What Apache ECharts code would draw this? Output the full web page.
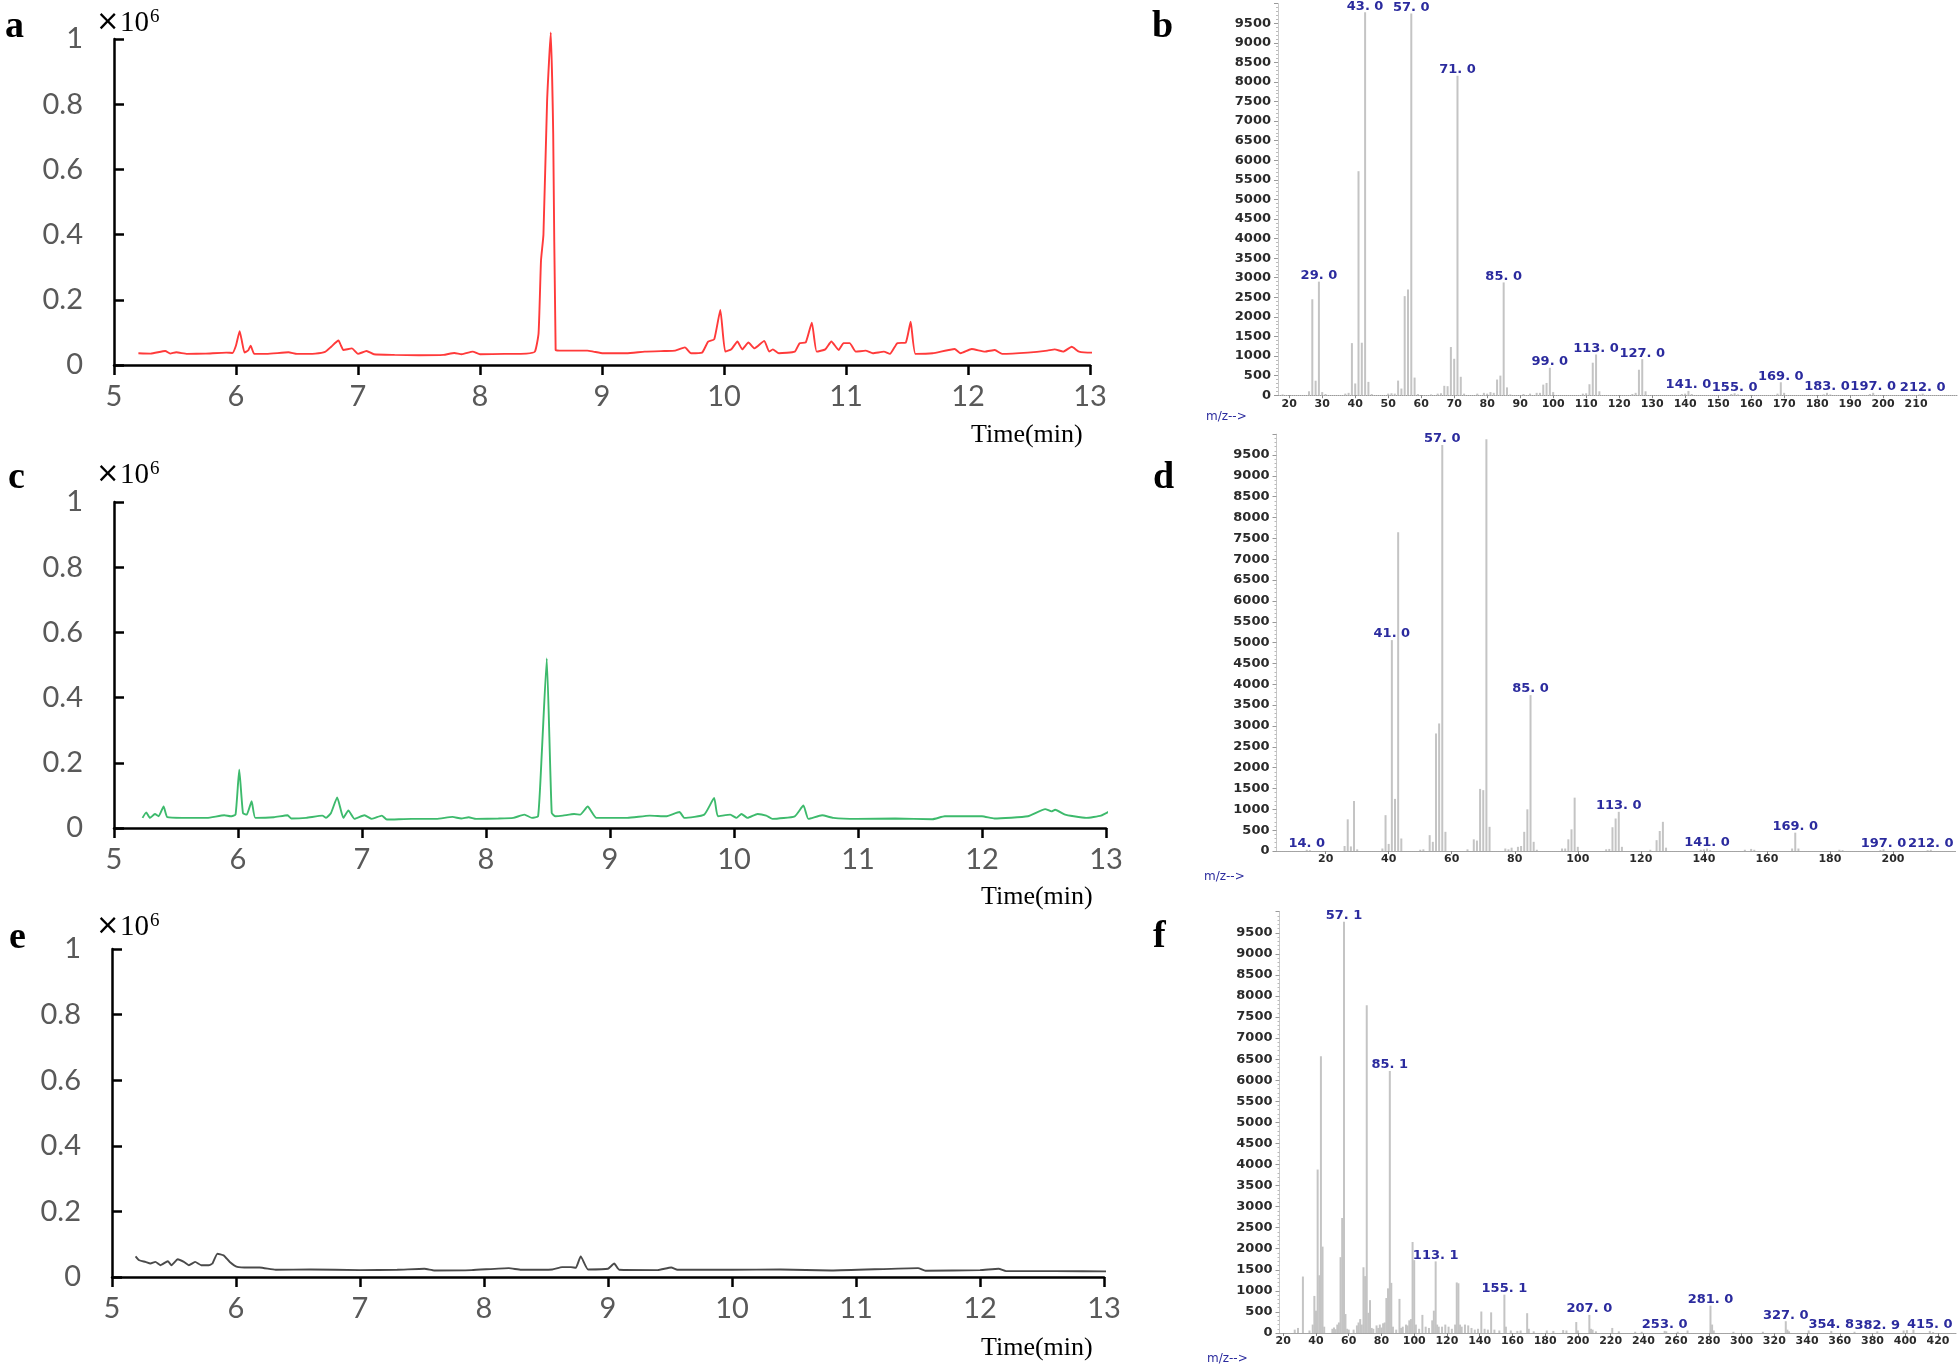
<!DOCTYPE html>
<html><head><meta charset="utf-8">
<script src="https://cdn.jsdelivr.net/npm/echarts@6/dist/echarts.min.js"></script>
<style>html,body{margin:0;padding:0;background:#fff}#c{width:1960px;height:1366px}</style>
</head><body><div id="c"></div>
<script>
// ---------- Chromatogram a (red) : time (min), intensity (x10^6) ----------
const timeA = [5.20,5.30,5.42,5.46,5.51,5.60,5.75,5.92,5.97,6.00,6.03,6.05,6.07,6.10,6.12,6.15,6.25,6.43,6.50,6.65,6.73,6.78,6.84,6.86,6.88,6.95,7.00,7.07,7.13,7.30,7.50,7.70,7.79,7.85,7.94,8.00,8.20,8.38,8.45,8.48,8.50,8.52,8.55,8.58,8.60,8.62,8.65,8.76,8.88,8.93,9.01,9.20,9.35,9.51,9.60,9.68,9.73,9.82,9.87,9.92,9.97,10.01,10.06,10.11,10.15,10.20,10.25,10.33,10.37,10.40,10.45,10.58,10.62,10.67,10.72,10.76,10.83,10.88,10.94,10.98,11.03,11.08,11.16,11.22,11.31,11.36,11.42,11.49,11.53,11.57,11.71,11.89,11.94,12.03,12.14,12.22,12.28,12.49,12.65,12.71,12.78,12.85,12.91,13.02,13.08,13.15,13.23];
const valA  = [0.036,0.035,0.043,0.035,0.039,0.034,0.035,0.038,0.037,0.060,0.104,0.070,0.038,0.045,0.059,0.034,0.034,0.039,0.034,0.035,0.040,0.056,0.075,0.060,0.046,0.051,0.034,0.043,0.033,0.031,0.030,0.031,0.037,0.033,0.041,0.033,0.034,0.035,0.041,0.097,0.32,0.40,0.81,1.02,0.71,0.046,0.044,0.044,0.044,0.041,0.036,0.036,0.041,0.043,0.044,0.054,0.036,0.038,0.072,0.079,0.169,0.041,0.048,0.072,0.048,0.069,0.051,0.074,0.041,0.048,0.036,0.041,0.067,0.069,0.130,0.041,0.048,0.072,0.046,0.067,0.067,0.041,0.044,0.036,0.041,0.034,0.067,0.069,0.133,0.034,0.036,0.049,0.036,0.049,0.041,0.046,0.034,0.038,0.044,0.048,0.041,0.056,0.041,0.038,0.041,0.041,0.053];

// ---------- Chromatogram c (green) ----------
const timeC = [5.23,5.26,5.29,5.33,5.36,5.40,5.43,5.55,5.75,5.89,5.94,5.98,6.01,6.04,6.07,6.11,6.14,6.29,6.40,6.43,6.55,6.68,6.71,6.75,6.80,6.85,6.89,6.94,7.02,7.08,7.16,7.20,7.40,7.60,7.73,7.80,7.86,7.92,8.10,8.22,8.31,8.37,8.42,8.45,8.49,8.53,8.56,8.62,8.71,8.76,8.82,8.89,9.14,9.32,9.45,9.56,9.60,9.76,9.84,9.87,9.97,10.02,10.06,10.11,10.19,10.26,10.31,10.49,10.56,10.60,10.71,10.80,10.99,11.30,11.60,11.70,11.85,12.00,12.10,12.37,12.51,12.56,12.59,12.67,12.74,12.84,12.96,13.04];
const valC  = [0.031,0.048,0.031,0.043,0.036,0.066,0.033,0.031,0.031,0.039,0.036,0.041,0.179,0.046,0.041,0.082,0.031,0.033,0.039,0.029,0.031,0.038,0.031,0.046,0.094,0.031,0.054,0.028,0.039,0.028,0.038,0.026,0.028,0.028,0.034,0.029,0.033,0.028,0.029,0.031,0.041,0.031,0.036,0.23,0.52,0.046,0.036,0.038,0.043,0.041,0.066,0.031,0.031,0.038,0.036,0.049,0.031,0.041,0.092,0.036,0.041,0.031,0.043,0.031,0.043,0.038,0.028,0.036,0.069,0.028,0.039,0.031,0.028,0.029,0.027,0.036,0.036,0.036,0.029,0.036,0.058,0.051,0.056,0.041,0.036,0.031,0.038,0.054];

// ---------- Chromatogram e (dark grey) ----------
const timeE = [5.19,5.22,5.27,5.31,5.35,5.39,5.45,5.48,5.53,5.58,5.62,5.67,5.72,5.78,5.81,5.85,5.90,5.95,6.01,6.10,6.19,6.32,6.60,7.00,7.30,7.52,7.60,7.90,8.20,8.30,8.55,8.63,8.70,8.74,8.78,8.84,9.00,9.05,9.09,9.40,9.51,9.56,10.00,10.39,10.80,11.50,11.56,12.00,12.15,12.21,12.60,13.07];
const valE  = [0.063,0.051,0.046,0.041,0.046,0.036,0.048,0.036,0.054,0.046,0.036,0.046,0.036,0.036,0.041,0.071,0.066,0.046,0.031,0.029,0.029,0.022,0.023,0.021,0.022,0.025,0.020,0.021,0.027,0.022,0.023,0.030,0.030,0.028,0.063,0.023,0.025,0.041,0.022,0.021,0.029,0.022,0.022,0.023,0.020,0.027,0.019,0.021,0.025,0.018,0.018,0.017];

// ---------- Mass spectrum b : [m/z, abundance] ----------
const peaksB = [[18,20],[26,100],[27,2450],[28,370],[29,2900],[30,80],[31,30],[37,40],[38,60],[39,1330],[40,300],[41,5720],[42,1340],[43,9780],[44,340],[45,30],[50,40],[51,50],[52,40],[53,373],[54,170],[55,2530],[56,2700],[57,9750],[58,450],[59,30],[63,20],[65,40],[66,50],[67,240],[68,230],[69,1230],[70,930],[71,8160],[72,470],[73,40],[77,40],[79,60],[80,40],[81,80],[82,60],[83,400],[84,500],[85,2880],[86,200],[87,20],[91,30],[93,40],[95,60],[96,60],[97,270],[98,313],[99,700],[100,80],[109,40],[110,50],[111,280],[112,830],[113,1040],[114,100],[124,30],[125,60],[126,650],[127,920],[128,100],[139,30],[140,40],[141,110],[142,30],[154,30],[155,50],[156,20],[168,40],[169,330],[170,60],[182,20],[183,60],[184,20],[196,30],[197,60],[211,20],[212,40]];
const labelsB = [29.0,43.0,57.0,71.0,85.0,99.0,113.0,127.0,141.0,155.0,169.0,183.0,197.0,212.0];
const ticksB = [20,30,40,50,60,70,80,90,100,110,120,130,140,150,160,170,180,190,200,210];

// ---------- Mass spectrum d ----------
const peaksD = [[14,30],[15,20],[26,120],[27,760],[28,110],[29,1200],[30,40],[38,60],[39,860],[40,170],[41,5060],[42,1250],[43,7650],[44,300],[50,30],[51,40],[53,380],[54,220],[55,2820],[56,3060],[57,9740],[58,460],[65,40],[67,280],[68,250],[69,1490],[70,1460],[71,9880],[72,580],[77,60],[78,40],[79,80],[81,100],[82,120],[83,460],[84,1000],[85,3740],[86,220],[87,30],[95,60],[96,60],[97,280],[98,520],[99,1280],[100,100],[109,40],[110,50],[111,570],[112,780],[113,940],[114,100],[123,30],[125,260],[126,480],[127,700],[128,80],[139,30],[140,40],[141,60],[142,20],[153,30],[155,50],[156,30],[168,60],[169,440],[170,60],[183,30],[184,20],[196,20],[197,40],[211,20],[212,30]];
const labelsD = [14.0,41.0,57.0,85.0,113.0,141.0,169.0,197.0,212.0];
const ticksD = [20,40,60,80,100,120,140,160,180,200];

// ---------- Mass spectrum f ----------
const peaksF = [[27,80],[29,120],[32,1340],[36,60],[38,200],[39,880],[40,530],[41,3880],[42,1370],[43,6570],[44,2050],[45,150],[50,100],[51,130],[52,90],[53,200],[54,250],[55,1800],[56,2730],[57.1,9760],[58,450],[59,100],[60,80],[63,80],[65,180],[66,250],[67,330],[68,200],[69,1560],[70,1350],[71,7780],[72,480],[73,780],[74,120],[75,100],[77,180],[78,120],[79,200],[80,130],[81,230],[82,250],[83,830],[84,1060],[85.1,6220],[86,1190],[87,150],[89,80],[91,810],[92,120],[93,150],[95,200],[96,180],[97,300],[98,330],[99,2160],[100,1730],[101,200],[103,100],[105,430],[107,150],[109,120],[111,300],[112,530],[113.1,1700],[114,200],[115,150],[117,150],[119,200],[121,150],[123,100],[125,200],[126,1200],[127,1180],[128,200],[129,150],[131,200],[133,180],[135,120],[137,80],[139,100],[141,510],[143,100],[145,80],[147,490],[149,80],[152,60],[155.1,910],[156,150],[159,60],[163,50],[165,60],[169,470],[170,100],[173,40],[181,60],[185,50],[191,70],[193,60],[199,260],[200,60],[207.0,430],[208,100],[209,80],[211,40],[221,120],[225,40],[235,30],[239,30],[253.0,50],[254,40],[261,30],[267,60],[281.0,650],[282,200],[283,60],[295,30],[313,30],[327.0,280],[328,80],[329,40],[341,60],[354.8,50],[369,30],[382.9,40],[399,60],[401,70],[405,80],[415.0,50],[417,20]];
const labelsF = [57.1,85.1,113.1,155.1,207.0,253.0,281.0,327.0,354.8,382.9,415.0];
const ticksF = [20,40,60,80,100,120,140,160,180,200,220,240,260,280,300,320,340,360,380,400,420];

// ---------- layout ----------
const chart = echarts.init(document.getElementById('c'), null, {renderer:'canvas'});
const LBL = '#595959';
const BLUE = '#2b2b9e';

const grids = [
  {left:114, top:39, width:976, height:326},      // a
  {left:1278, top:3.6, width:679, height:391.6},  // b
  {left:114, top:502, width:992, height:326},     // c
  {left:1276.5, top:434.2, width:679.5, height:416.8}, // d
  {left:112, top:949, width:992, height:328},     // e
  {left:1279.5, top:911.7, width:676.5, height:421.3}  // f
].map(g => Object.assign({outerBoundsMode:'none', containLabel:false}, g));

function chromX(i){
  return {type:'value', gridIndex:i, min:5, max:13, interval:1,
    axisLine:{show:true, lineStyle:{color:'#000', width:2.5}},
    axisTick:{show:true, inside:false, length:10, lineStyle:{color:'#000', width:2.5}},
    axisLabel:{color:LBL, fontFamily:'Lato', fontSize:29, lineHeight:29, margin:17},
    splitLine:{show:false}};
}
function chromY(i){
  return {type:'value', gridIndex:i, min:0, max:1, interval:0.2,
    axisLine:{show:true, lineStyle:{color:'#000', width:2.5}},
    axisTick:{show:true, inside:true, length:10, lineStyle:{color:'#000', width:2.5}},
    axisLabel:{color:LBL, fontFamily:'Lato', fontSize:29, margin:31,
      formatter: v => String(Math.round(v*10)/10)},
    splitLine:{show:false}};
}
function specX(i, min, max, ticks){
  return {type:'value', gridIndex:i, min:min, max:max,
    axisLine:{show:true, lineStyle:{color:'#9a9a9a', width:1, type:'dotted'}},
    axisTick:{show:true, length:3, customValues:ticks, lineStyle:{color:'#888'}},
    axisLabel:{customValues:ticks, color:'#2a2a2a', fontFamily:'DejaVu Sans', fontWeight:'bold', fontSize:11, margin:3},
    splitLine:{show:false}};
}
function specY(i){
  return {type:'value', gridIndex:i, min:0, max:10000, interval:500,
    axisLine:{show:true, lineStyle:{color:'#c8c8c8', width:1}},
    axisTick:{show:true, length:4, lineStyle:{color:'#999'}},
    minorTick:{show:true, splitNumber:5, length:2, lineStyle:{color:'#bbb'}},
    axisLabel:{color:'#2a2a2a', fontFamily:'DejaVu Sans', fontWeight:'bold', fontSize:13, margin:7,
      showMaxLabel:false, formatter: v => v >= 10000 ? '' : String(v)},
    splitLine:{show:false}};
}
const zip = (t, v) => t.map((x, k) => [x, v[k]]);
function chromSeries(i, t, v, color){
  return {type:'line', xAxisIndex:i, yAxisIndex:i, data:zip(t, v), showSymbol:false, symbol:'none',
    clip:false, lineStyle:{color:color, width:1.9}, smooth:0.15, animation:false, silent:true};
}
const fmtMz = m => m.toFixed(1).replace('.', '. ');
function specSeries(i, peaks, labels){
  return {type:'bar', xAxisIndex:i, yAxisIndex:i, barWidth:2, animation:false, silent:true,
    itemStyle:{color:'#c4c4c4'},
    label:{show:false, position:'top', distance:0, color:BLUE, fontFamily:'DejaVu Sans', fontWeight:'bold', fontSize:13, lineHeight:12},
    data: peaks.map(p => labels.indexOf(p[0]) >= 0
      ? {value:p, label:{show:true, formatter: fmtMz(p[0])}}
      : {value:p})};
}

// text decorations
const graphics = [];
const T = (x, y, s, font, fill) => graphics.push({type:'text', x:x, y:y, silent:true,
  style:{text:s, font:font, fill:fill || '#000', verticalAlign:'middle'}});
const LETTER = 'bold 38px "Liberation Serif"';
T(5, 27, 'a', LETTER); T(8, 478, 'c', LETTER); T(9, 938, 'e', LETTER);
T(1152, 27, 'b', LETTER); T(1153, 478, 'd', LETTER); T(1153, 937, 'f', LETTER);
[[96,23],[96,475],[96,927]].forEach(p => {
  T(p[0], p[1], '×', '28px "DejaVu Sans"');
  T(p[0] + 24, p[1], '10', '29px "Liberation Serif"');
  T(p[0] + 54, p[1] - 6, '6', '19px "Liberation Serif"');
});
[[971,435],[981,897],[981,1348]].forEach(p => T(p[0], p[1], 'Time(min)', '26px "Liberation Serif"'));
[[1206,417],[1204,877],[1207,1359]].forEach(p => T(p[0], p[1], 'm/z-->', '12px "DejaVu Sans"', BLUE));

chart.setOption({
  animation:false,
  backgroundColor:'#fff',
  grid: grids,
  xAxis: [chromX(0), specX(1, 16.6, 222.4, ticksB), chromX(2), specX(3, 4.4, 220.0, ticksD), chromX(4), specX(5, 17.7, 431.0, ticksF)],
  yAxis: [chromY(0), specY(1), chromY(2), specY(3), chromY(4), specY(5)],
  series: [
    chromSeries(0, timeA, valA, '#ff3a3a'),
    specSeries(1, peaksB, labelsB),
    chromSeries(2, timeC, valC, '#3dba6c'),
    specSeries(3, peaksD, labelsD),
    chromSeries(4, timeE, valE, '#4a4a4a'),
    specSeries(5, peaksF, labelsF)
  ],
  graphic: graphics
});
</script></body></html>
